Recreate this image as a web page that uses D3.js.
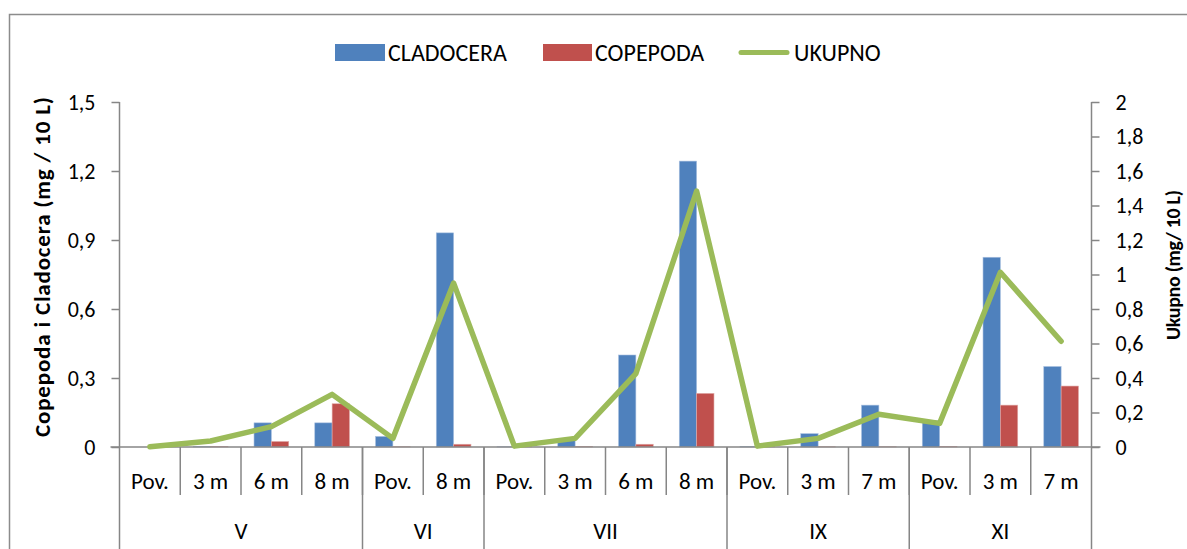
<!DOCTYPE html>
<html>
<head>
<meta charset="utf-8">
<script src="https://cdn.jsdelivr.net/npm/d3@7"></script>
<style>
  html, body { margin: 0; padding: 0; background: #fff; }
  svg { display: block; }
  text { font-family: Carlito, Calibri, Lato, "Open Sans", sans-serif; fill: #000; }
</style>
</head>
<body>
<svg id="chart" width="1187" height="549"></svg>
<script>
// ---- data ----
const depthLabels = ["Pov.","3 m","6 m","8 m","Pov.","8 m","Pov.","3 m","6 m","8 m","Pov.","3 m","7 m","Pov.","3 m","7 m"];
const groupNames = ["V","VI","VII","IX","XI"];
const groupSizes = [4, 2, 4, 3, 3];
const cladocera = [0, 0.002, 0.105, 0.105, 0.046, 0.931, 0.001, 0.035, 0.40, 1.243, 0.002, 0.058, 0.182, 0.114, 0.825, 0.35];
const copepoda  = [0, 0.002, 0.024, 0.188, 0.001, 0.012, 0.001, 0.003, 0.012, 0.233, 0.001, 0.001, 0.001, 0.002, 0.182, 0.265];
const ukupno    = [0.002, 0.035, 0.118, 0.305, 0.05, 0.95, 0.005, 0.05, 0.426, 1.483, 0.005, 0.05, 0.19, 0.137, 1.013, 0.613];
const leftTicks  = [0, 0.3, 0.6, 0.9, 1.2, 1.5];
const rightTicks = [0, 0.2, 0.4, 0.6, 0.8, 1, 1.2, 1.4, 1.6, 1.8, 2];
const seriesNames = ["CLADOCERA", "COPEPODA", "UKUPNO"];
const colors = ["#4F81BD", "#C0504D", "#9BBB59"];

// ---- layout ----
const svg = d3.select("#chart");
const L = 119.5, R = 1091.5, T = 102, B = 447;
const axisColor = "#868686";
const FS_TICK = "22px", FS_CAT = "23px", FS_LEG = "24px";
const fmt = v => String(+v.toFixed(2)).replace(".", ",");

// outer border
svg.append("rect").attr("x", 9.5).attr("y", 14.5).attr("width", 1200).attr("height", 560)
  .attr("fill", "none").attr("stroke", "#8c8c8c").attr("stroke-width", 1.5);

const idx = d3.range(depthLabels.length);
const x = d3.scaleBand().domain(idx).range([L, R]).paddingInner(0).paddingOuter(0);
const xs = d3.scaleBand().domain([0, 1]).range([0, x.bandwidth()]).paddingInner(0).paddingOuter(0.75);
const yL = d3.scaleLinear().domain([0, 1.5]).range([B, T]);
const yR = d3.scaleLinear().domain([0, 2]).range([B, T]);

// bars
const seriesData = [cladocera, copepoda];
seriesData.forEach((arr, si) => {
  svg.append("g").selectAll("rect").data(arr).join("rect")
    .attr("x", (d, i) => x(i) + xs(si))
    .attr("y", d => yL(d))
    .attr("width", xs.bandwidth())
    .attr("height", d => B - yL(d))
    .attr("fill", colors[si])
    .attr("stroke", si === 0 ? "#a9c0e0" : "#e0a9a7")
    .attr("stroke-width", 0.6);
});

// left axis
const gL = svg.append("g").attr("transform", `translate(${L},0)`)
  .call(d3.axisLeft(yL).tickValues(leftTicks).tickSize(8).tickPadding(16).tickFormat(fmt));
gL.select(".domain").remove();
gL.selectAll(".tick line").attr("stroke", axisColor).attr("stroke-width", 1.5);
gL.selectAll(".tick text").style("font-size", FS_TICK);
svg.append("line").attr("x1", L).attr("x2", L).attr("y1", T).attr("y2", 549)
  .attr("stroke", axisColor).attr("stroke-width", 1.5);

// right axis
const gR = svg.append("g").attr("transform", `translate(${R},0)`)
  .call(d3.axisRight(yR).tickValues(rightTicks).tickSize(8).tickPadding(16).tickFormat(fmt));
gR.select(".domain").remove();
gR.selectAll(".tick line").attr("stroke", axisColor).attr("stroke-width", 1.5);
gR.selectAll(".tick text").style("font-size", FS_TICK);
svg.append("line").attr("x1", R).attr("x2", R).attr("y1", T).attr("y2", 549)
  .attr("stroke", axisColor).attr("stroke-width", 1.5);

// x axis baseline
svg.append("line").attr("x1", L - 9).attr("x2", R + 9).attr("y1", B).attr("y2", B)
  .attr("stroke", axisColor).attr("stroke-width", 1.5);

// category dividers and labels
const gx = svg.append("g");
idx.forEach(i => {
  if (i > 0) gx.append("line").attr("x1", x(i)).attr("x2", x(i)).attr("y1", B).attr("y2", 495)
    .attr("stroke", axisColor).attr("stroke-width", 1.5);
  gx.append("text").attr("x", x(i) + x.bandwidth() / 2).attr("y", 489)
    .attr("text-anchor", "middle").style("font-size", FS_CAT).text(depthLabels[i]);
});
let start = 0;
groupNames.forEach((g, gi) => {
  const end = start + groupSizes[gi];
  const x0 = x(start), x1 = end < idx.length ? x(end) : R;
  if (end < idx.length) gx.append("line").attr("x1", x1).attr("x2", x1).attr("y1", B).attr("y2", 549)
    .attr("stroke", axisColor).attr("stroke-width", 1.5);
  gx.append("text").attr("x", (x0 + x1) / 2).attr("y", 539)
    .attr("text-anchor", "middle").style("font-size", FS_CAT).text(g);
  start = end;
});

// line
const line = d3.line().x((d, i) => x(i) + x.bandwidth() / 2).y(d => yR(d));
svg.append("path").datum(ukupno).attr("d", line).attr("fill", "none")
  .attr("stroke", colors[2]).attr("stroke-width", 5.5)
  .attr("stroke-linejoin", "round").attr("stroke-linecap", "round");

// axis titles
svg.append("text").attr("transform", `translate(50,267) rotate(-90)`)
  .attr("text-anchor", "middle").style("font-size", "23px").style("font-weight", "bold")
  .attr("textLength", 340).attr("lengthAdjust", "spacing")
  .text("Copepoda i Cladocera (mg / 10 L)");
svg.append("text").attr("transform", `translate(1180,265) rotate(-90)`)
  .attr("text-anchor", "middle").style("font-size", "20px").style("font-weight", "bold")
  .attr("textLength", 150).attr("lengthAdjust", "spacing")
  .text("Ukupno (mg/ 10 L)");

// legend
const lg = svg.append("g");
const legendItems = [
  { x: 335, w: 50, type: "rect", c: colors[0], tx: 388, t: seriesNames[0] },
  { x: 543, w: 49, type: "rect", c: colors[1], tx: 595, t: seriesNames[1] },
  { x: 739, w: 50, type: "line", c: colors[2], tx: 794, t: seriesNames[2] }
];
legendItems.forEach(it => {
  if (it.type === "rect") lg.append("rect").attr("x", it.x).attr("y", 44).attr("width", it.w).attr("height", 17).attr("fill", it.c);
  else lg.append("line").attr("x1", it.x + 2).attr("x2", it.x + it.w - 2).attr("y1", 52.5).attr("y2", 52.5)
    .attr("stroke", it.c).attr("stroke-width", 5).attr("stroke-linecap", "round");
  lg.append("text").attr("x", it.tx).attr("y", 61).style("font-size", FS_LEG).text(it.t);
});
</script>
</body>
</html>
